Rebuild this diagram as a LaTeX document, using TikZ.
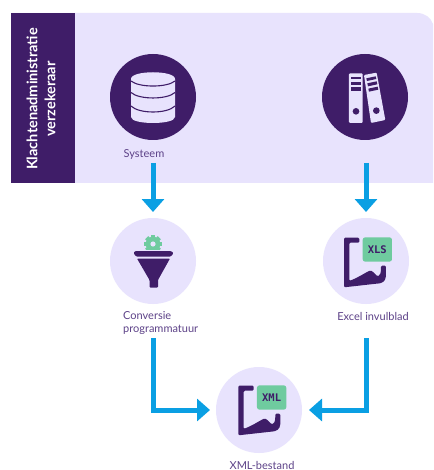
\documentclass[tikz,border=0pt]{standalone}
\usepackage{fontspec}
\setmainfont{Lato}
\newfontfamily\badgefont{DejaVu Sans Mono}
\usetikzlibrary{arrows.meta}
\definecolor{lilac}{HTML}{E8E3FD}
\definecolor{plum}{HTML}{3F1D68}
\definecolor{labelplum}{HTML}{5D4288}
\definecolor{flowblue}{HTML}{0A9FE3}
\definecolor{mint}{HTML}{6FCB9F}
\tikzset{
 x=1pt,y=-1pt,
 darkdisc/.style={circle,fill=plum,minimum size=86pt,inner sep=0pt},
 lightdisc/.style={circle,fill=lilac,minimum size=86pt,inner sep=0pt},
 caption/.style={text=labelplum,font=\fontsize{11}{13}\selectfont,inner sep=0pt},
 flow/.style={draw=flowblue,line width=5pt,-{Triangle[width=22pt,length=13pt]}},
 sideline/.style={draw=plum,line width=1.1pt},
}
\newcommand{\sheeticon}[3]{%
 \begin{scope}[shift={(#1,#2)},x=0.3333pt,y=-0.3333pt]
  \fill[plum,rounded corners=1.2pt] (132,113) -- (178,113) -- (178,128) -- (148,128) -- (148,243)
   .. controls (175,232) and (190,222) .. (205,214) .. controls (215,209) and (225,222) .. (232,229)
   .. controls (240,226) and (243,222) .. (243,197) -- (258,197) -- (258,225)
   .. controls (257,245) and (245,250) .. (230,251) -- (132,262) -- cycle;
  \fill[mint,rounded corners=2.5pt] (188,112) rectangle (276,185);
  \node[text=plum,inner sep=0pt,font=\badgefont\bfseries\fontsize{10.5}{10.5}\selectfont] at (232,150) {#3};
 \end{scope}}
\begin{document}
\begin{tikzpicture}
\useasboundingbox (0,0) rectangle (433,470);
\fill[white] (0,0) rectangle (433,470);
% panel
\fill[lilac] (11,13) -- (417,13) .. controls (425,13) and (431,18) .. (433,24) -- (433,183) -- (11,183) -- cycle;
\fill[plum] (11,13) rectangle (75,183);
\node[rotate=90,text=white,align=center,inner sep=0pt,font=\fontsize{14.5}{18}\selectfont\bfseries] (band) at (41,99) {Klachtenadministratie\\verzekeraar};
% discs
\node[darkdisc] (db) at (153,97) {};
\node[darkdisc] (files) at (365,97) {};
\node[lightdisc] (funnel) at (153,261) {};
\node[lightdisc] (excel) at (366,261) {};
\node[lightdisc] (xml) at (259,410) {};
% captions
\node[caption] (lsys) at (144,154) {Systeem};
\node[caption,align=left,anchor=north west] (lconv) at (123,311) {Conversie\\programmatuur};
\node[caption] (lexcel) at (373,316) {Excel invulblad};
\node[caption] (lxml) at (262,465) {XML-bestand};
% database icon
\fill[lilac] (131,79) .. controls (131,70) and (175,70) .. (175,79) -- (175,117) .. controls (175,125) and (131,125) .. (131,117) -- cycle;
\draw[sideline] (131,81) .. controls (139,87.7) and (167,87.7) .. (175,81);
\draw[sideline] (131,92.5) .. controls (139,99.8) and (167,99.8) .. (175,92.5);
\draw[sideline] (131,106) .. controls (139,114) and (167,114) .. (175,106);
% binder icon
\begin{scope}[shift={(220,0)},x=0.3333pt,y=-0.3333pt]
 \fill[lilac,rounded corners=1pt] (387,220) -- (428,220) -- (428,369) -- (387,369) -- cycle;
 \fill[lilac,rounded corners=1pt] (432,225) -- (470,218) -- (496,360) -- (453,369) -- cycle;
 \fill[plum] (393,230) rectangle (423,238);
 \fill[plum] (393,245) rectangle (423,255);
 \fill[plum] (393,262) rectangle (423,272);
 \fill[plum] (439,235) -- (467,229) -- (469,237) -- (441,243) -- cycle;
 \fill[plum] (442,250) -- (470,244) -- (472,253) -- (444,259) -- cycle;
 \fill[plum] (445,266) -- (473,260) -- (475,269) -- (447,275) -- cycle;
 \fill[plum] (408,334) circle[radius=10];
 \fill[plum] (469,332) circle[radius=10];
\end{scope}
% funnel icon
\begin{scope}
 \fill[mint] (153,244) circle[radius=7.3];
 \foreach \a in {0,45,...,315}{\fill[mint,rotate around={\a:(153,244)}] (150.8,235) rectangle (155.2,239);}
 \fill[lilac] (153,244) circle[radius=2.6];
 \fill[lilac] (140,249.5) rectangle (166,256);
 \fill[plum,rounded corners=1pt] (133.5,253) -- (135,251) -- (171,251) -- (173.5,253) -- (171,256.5) -- (136,256.5) -- cycle;
 \fill[plum,rounded corners=.8pt] (137,258.5) -- (170,258.5) -- (158,280) -- (158,287.5) -- (149.5,287.5) -- (149.5,280) -- cycle;
\end{scope}
\sheeticon{300}{200}{XLS}
\sheeticon{194.33}{348}{XML}
% connectors
\coordinate (s1) at (153,163);
\coordinate (t1) at (153,212);
\coordinate (s2) at (366,163);
\coordinate (t2) at (366,212);
\coordinate (s3) at (153,338);
\coordinate (t3) at (210,410);
\coordinate (s4) at (366,338);
\coordinate (t4) at (309,410);
\draw[flow] (s1) -- (t1);
\draw[flow] (s2) -- (t2);
\draw[flow] (s3) |- (t3);
\draw[flow] (s4) |- (t4);
\end{tikzpicture}
\end{document}
